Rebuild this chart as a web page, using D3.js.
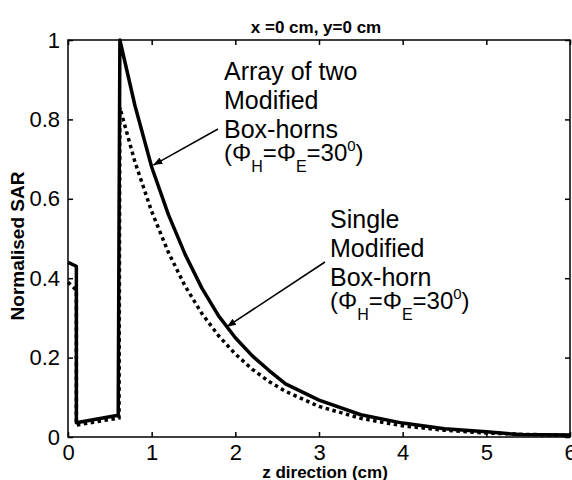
<!DOCTYPE html>
<html>
<head>
<meta charset="utf-8">
<script src="https://cdn.jsdelivr.net/npm/d3@7"></script>
<style>
  body { margin: 0; background: #fff; }
  text { font-family: "Liberation Sans", Arial, sans-serif; fill: #000; }
</style>
</head>
<body>
<div id="chart"></div>
<script>
// ---- data ----
// array of two modified box-horns (solid line)
var zArray = [0, 0.1, 0.1, 0.6, 0.62, 0.8, 1.0, 1.2, 1.4, 1.6, 1.8, 2.0, 2.2, 2.4, 2.6, 3.0, 3.5, 4.0, 4.5, 5.0, 5.4, 6.0];
var sarArray = [0.44, 0.43, 0.036, 0.055, 1.0, 0.835, 0.68, 0.56, 0.46, 0.375, 0.305, 0.25, 0.205, 0.168, 0.134, 0.093, 0.056, 0.035, 0.021, 0.013, 0.006, 0.005];
// single modified box-horn (dotted line)
var zSingle = [0, 0.1, 0.1, 0.61, 0.62, 0.8, 1.0, 1.2, 1.4, 1.6, 1.8, 2.0, 2.2, 2.4, 2.6, 3.0, 3.5, 4.0, 4.5, 5.0, 5.4, 6.0];
var sarSingle = [0.39, 0.37, 0.03, 0.048, 0.83, 0.693, 0.568, 0.465, 0.38, 0.311, 0.255, 0.209, 0.171, 0.14, 0.115, 0.077, 0.047, 0.028, 0.017, 0.010, 0.007, 0.004];

var xTicks = [0, 1, 2, 3, 4, 5, 6];
var yTicks = [0, 0.2, 0.4, 0.6, 0.8, 1];

var svgWidth = 572;
var svgHeight = 480;
var margin = { top: 40, right: 2, bottom: 43, left: 68 };
var width = svgWidth - margin.left - margin.right;
var height = svgHeight - margin.top - margin.bottom;

var svg = d3.select("#chart")
  .append("svg")
  .attr("width", svgWidth)
  .attr("height", svgHeight);

var chartGroup = svg.append("g")
  .attr("transform", `translate(${margin.left}, ${margin.top})`);

var xScale = d3.scaleLinear().domain([0, 6]).range([0, width]);
var yScale = d3.scaleLinear().domain([0, 1]).range([height, 0]);

// matlab style box with inward ticks
function styleAxis(g) {
  g.select(".domain").remove();
  g.selectAll("line").attr("stroke", "#000").attr("stroke-width", 1.5);
  g.selectAll("text").style("font-size", "22px");
}

chartGroup.append("g")
  .attr("transform", `translate(0, ${height})`)
  .call(d3.axisBottom(xScale).tickValues(xTicks).tickFormat(d3.format("d")).tickSizeInner(-5).tickSizeOuter(0).tickPadding(7))
  .call(styleAxis);

chartGroup.append("g")
  .call(d3.axisTop(xScale).tickValues(xTicks).tickFormat("").tickSizeInner(-5).tickSizeOuter(0))
  .call(styleAxis);

chartGroup.append("g")
  .call(d3.axisLeft(yScale).tickValues(yTicks).tickFormat(d => d === 0 || d === 1 ? d3.format("d")(d) : d3.format(".1f")(d)).tickSizeInner(-5).tickSizeOuter(0).tickPadding(8))
  .call(styleAxis);

chartGroup.append("g")
  .attr("transform", `translate(${width}, 0)`)
  .call(d3.axisRight(yScale).tickValues(yTicks).tickFormat("").tickSizeInner(-5).tickSizeOuter(0))
  .call(styleAxis);

chartGroup.append("rect")
  .attr("width", width)
  .attr("height", height)
  .attr("fill", "none")
  .attr("stroke", "#000")
  .attr("stroke-width", 1.5);

// the two curves
var line = d3.line()
  .x(d => xScale(d[0]))
  .y(d => yScale(d[1]));

chartGroup.append("path")
  .datum(d3.zip(zSingle, sarSingle))
  .attr("d", line)
  .attr("fill", "none")
  .attr("stroke", "#000")
  .attr("stroke-width", 3.5)
  .attr("stroke-dasharray", "3.5,3.5");

chartGroup.append("path")
  .datum(d3.zip(zArray, sarArray))
  .attr("d", line)
  .attr("fill", "none")
  .attr("stroke", "#000")
  .attr("stroke-width", 3.5)
  .attr("stroke-linejoin", "round");

// title and axis labels
svg.append("text")
  .attr("x", 316)
  .attr("y", 33)
  .attr("text-anchor", "middle")
  .style("font-size", "17px")
  .style("font-weight", "bold")
  .text("x =0 cm, y=0 cm");

svg.append("text")
  .attr("x", 325)
  .attr("y", 478)
  .attr("text-anchor", "middle")
  .style("font-size", "17px")
  .style("font-weight", "bold")
  .text("z direction (cm)");

svg.append("text")
  .attr("transform", "translate(24, 246) rotate(-90)")
  .attr("text-anchor", "middle")
  .style("font-size", "19px")
  .style("font-weight", "bold")
  .text("Normalised SAR");

// annotations
svg.append("defs").append("marker")
  .attr("id", "head")
  .attr("viewBox", "0 0 10 10")
  .attr("refX", 10)
  .attr("refY", 5)
  .attr("markerWidth", 6)
  .attr("markerHeight", 6)
  .attr("orient", "auto")
  .append("path")
  .attr("d", "M0,1 L10,5 L0,9 Z")
  .attr("fill", "#000");

function label(x, y, lines) {
  var g = svg.append("g").attr("transform", `translate(${x}, ${y})`);
  lines.forEach(function(t, i) {
    g.append("text")
      .attr("y", i * 29)
      .style("font-size", "25px")
      .text(t);
  });
  // (PhiH = PhiE = 30^0) line
  var p = g.append("text")
    .attr("y", lines.length * 29 - 6)
    .style("font-size", "24px");
  p.append("tspan").text("(Φ");
  p.append("tspan").attr("dy", 11).style("font-size", "16px").text("H");
  p.append("tspan").attr("dy", -11).text("=Φ");
  p.append("tspan").attr("dy", 11).style("font-size", "16px").text("E");
  p.append("tspan").attr("dy", -11).text("=30");
  p.append("tspan").attr("dy", -10).style("font-size", "15px").text("0");
  p.append("tspan").attr("dy", 10).text(")");
}

label(224, 80, ["Array of two", "Modified", "Box-horns"]);
label(330, 228, ["Single", "Modified", "Box-horn"]);

svg.append("line")
  .attr("x1", 218).attr("y1", 129)
  .attr("x2", xScale(1.02) + margin.left).attr("y2", yScale(0.685) + margin.top)
  .attr("stroke", "#000")
  .attr("stroke-width", 1.5)
  .attr("marker-end", "url(#head)");

svg.append("line")
  .attr("x1", 325).attr("y1", 262)
  .attr("x2", xScale(1.9) + margin.left).attr("y2", yScale(0.278) + margin.top)
  .attr("stroke", "#000")
  .attr("stroke-width", 1.5)
  .attr("marker-end", "url(#head)");
</script>
</body>
</html>
